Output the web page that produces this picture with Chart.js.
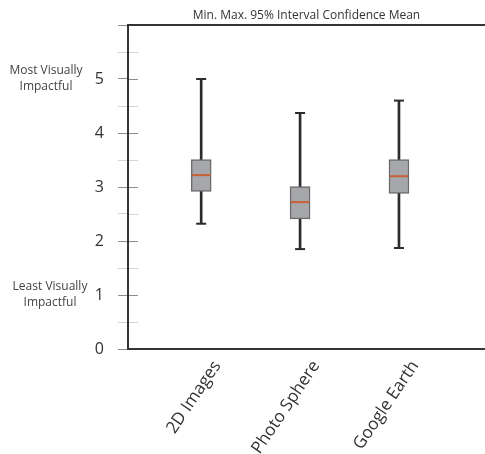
<!DOCTYPE html>
<html>
<head>
<meta charset="utf-8">
<script src="https://cdn.jsdelivr.net/npm/chart.js@4"></script>
<style>
  html, body { margin: 0; padding: 0; background: #fff; }
  #wrap { width: 485px; height: 454px; position: relative; }
</style>
</head>
<body>
<div id="wrap"><canvas id="chart"></canvas></div>
<script>
// Data
const categories = ['2D Images', 'Photo Sphere', 'Google Earth'];
const mins = [2.32, 1.85, 1.87];
const maxs = [5.0, 4.37, 4.6];
const ciLow = [2.92, 2.41, 2.88];
const ciHigh = [3.51, 3.01, 3.51];
const means = [3.22, 2.72, 3.2];
const yTickLabels = ['0', '1', '2', '3', '4', '5'];
const chartTitle = 'Min. Max. 95% Interval Confidence Mean';
const topLabel = ['Most Visually', 'Impactful'];
const bottomLabel = ['Least Visually', 'Impactful'];

const FONT = "'Open Sans', 'Noto Sans', sans-serif";

// build points at x = 1, 2, 3
const pos = categories.map((c, i) => i + 1);
const pts = arr => arr.map((v, i) => ({ x: pos[i], y: v }));

// frame, inner tick marks, title and side labels
const decorPlugin = {
    id: 'decor',
    afterDraw(chart) {
        const ctx = chart.ctx;
        const a = chart.chartArea;
        const y = chart.scales.y;
        ctx.save();

        // inner half of the tick marks
        for (let v = 0.5; v < 6; v += 0.5) {
            const py = Math.round(y.getPixelForValue(v)) + 0.5;
            ctx.strokeStyle = Number.isInteger(v) ? '#8c8c8c' : '#d4d4d4';
            ctx.lineWidth = 1;
            ctx.beginPath();
            ctx.moveTo(a.left, py);
            ctx.lineTo(a.left + 10, py);
            ctx.stroke();
        }

        // frame (right side runs off the canvas, as in the source)
        ctx.strokeStyle = '#333333';
        ctx.lineWidth = 2;
        ctx.strokeRect(a.left, a.top, a.right - a.left + 10, a.bottom - a.top);

        // title centered over plot area
        ctx.fillStyle = '#333333';
        ctx.font = '12px ' + FONT;
        ctx.textAlign = 'center';
        ctx.textBaseline = 'bottom';
        ctx.fillText(chartTitle, (a.left + a.right) / 2, a.top - 3);

        // side labels
        ctx.fillStyle = '#444444';
        ctx.textBaseline = 'middle';
        const y5 = y.getPixelForValue(5);
        ctx.fillText(topLabel[0], 46, y5 - 8);
        ctx.fillText(topLabel[1], 46, y5 + 8);
        const y1 = y.getPixelForValue(1);
        ctx.fillText(bottomLabel[0], 50, y1 - 8);
        ctx.fillText(bottomLabel[1], 50, y1 + 8);
        ctx.restore();
    }
};

new Chart(document.getElementById('chart'), {
    type: 'bar',
    data: {
        datasets: [
            {
                // whisker line
                label: 'Range',
                data: pos.map((p, i) => ({ x: p, y: [mins[i], maxs[i]] })),
                backgroundColor: '#2b2b2b',
                borderWidth: 0,
                barThickness: 2,
                grouped: false,
                order: 4
            },
            {
                // 95% confidence box
                label: '95% CI',
                data: pos.map((p, i) => ({ x: p, y: [ciLow[i], ciHigh[i]] })),
                backgroundColor: '#a6a7aa',
                borderColor: '#6b6b6b',
                borderWidth: 1.5,
                borderSkipped: false,
                barThickness: 20,
                grouped: false,
                order: 3
            },
            {
                type: 'line',
                label: 'Min',
                data: pts(mins),
                showLine: false,
                pointStyle: 'line',
                pointRadius: 5,
                borderColor: '#2b2b2b',
                borderWidth: 2,
                order: 2
            },
            {
                type: 'line',
                label: 'Max',
                data: pts(maxs),
                showLine: false,
                pointStyle: 'line',
                pointRadius: 5,
                borderColor: '#2b2b2b',
                borderWidth: 2,
                order: 2
            },
            {
                type: 'line',
                label: 'Mean',
                data: pts(means),
                showLine: false,
                pointStyle: 'line',
                pointRadius: 9.5,
                borderColor: '#c95f35',
                borderWidth: 2,
                order: 1
            }
        ]
    },
    options: {
        responsive: true,
        maintainAspectRatio: false,
        animation: false,
        layout: {
            autoPadding: false,
            padding: { top: 25, right: 0, left: 0, bottom: 0 }
        },
        scales: {
            x: {
                type: 'linear',
                offset: false,
                min: 0.26,
                max: 3.87,
                afterFit: scale => {
                    scale.height = 105;
                    scale.paddingLeft = 0;
                    scale.paddingRight = 0;
                },
                afterBuildTicks: scale => {
                    scale.ticks = pos.map(p => ({ value: p }));
                },
                border: { display: false },
                grid: { display: false },
                ticks: {
                    autoSkip: false,
                    maxRotation: 56,
                    minRotation: 56,
                    labelOffset: 16,
                    padding: 0,
                    color: '#333333',
                    font: { family: FONT, size: 17 },
                    callback: v => categories[v - 1] || ''
                }
            },
            y: {
                min: 0,
                max: 6,
                afterFit: scale => { scale.width = 128; },
                afterBuildTicks: scale => {
                    const t = [];
                    for (let v = 0; v <= 6; v += 0.5) t.push({ value: v });
                    scale.ticks = t;
                },
                border: { display: false },
                grid: {
                    drawOnChartArea: false,
                    drawTicks: true,
                    tickLength: 10,
                    color: ctx => Number.isInteger(ctx.tick.value) ? '#8c8c8c' : '#d4d4d4'
                },
                ticks: {
                    autoSkip: false,
                    padding: 14,
                    color: '#333333',
                    font: { family: FONT, size: 16 },
                    callback: v => yTickLabels[v] || ''
                }
            }
        },
        plugins: {
            legend: { display: false },
            title: { display: false },
            tooltip: { enabled: false }
        }
    },
    plugins: [decorPlugin]
});
</script>
</body>
</html>
